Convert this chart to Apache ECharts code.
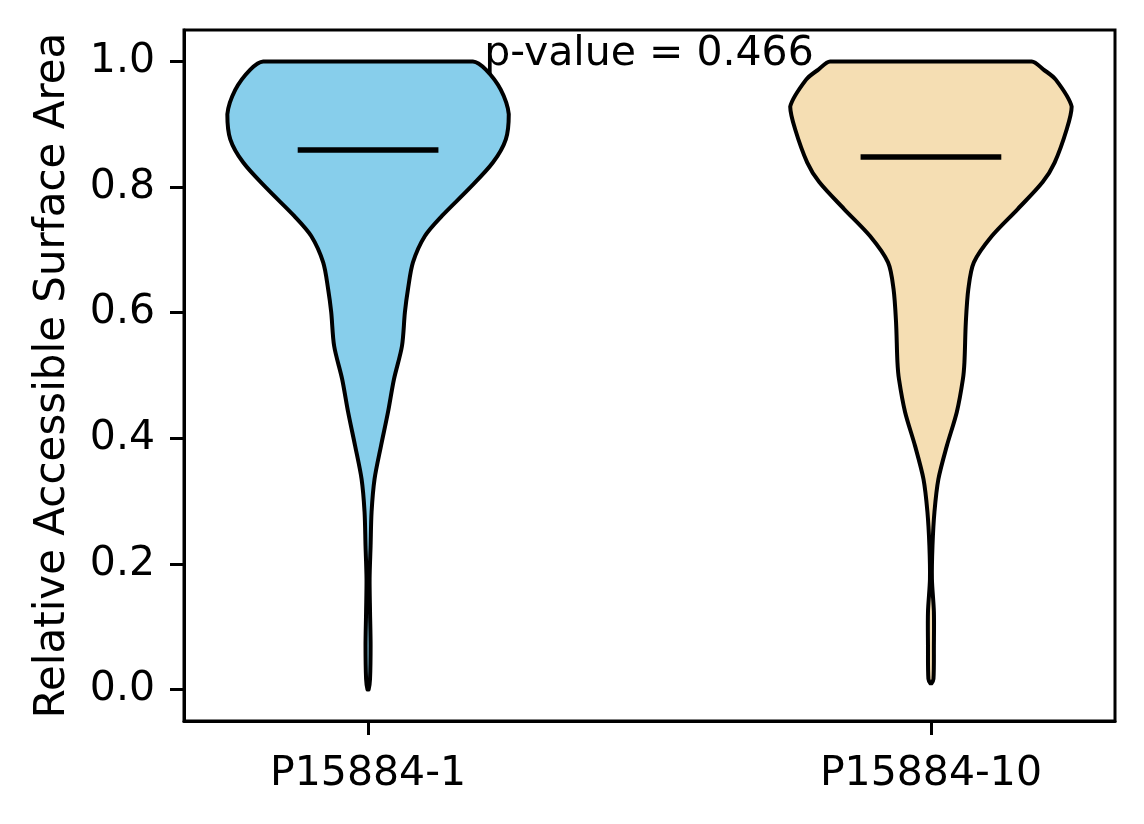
<!DOCTYPE html>
<html>
<head>
<meta charset="utf-8">
<script src="https://cdn.jsdelivr.net/npm/echarts@6/dist/echarts.min.js"></script>
<style>
  html, body { margin: 0; padding: 0; background: #fff; }
  #chart { width: 1144px; height: 824px; }
</style>
</head>
<body>
<div id="chart"></div>
<script>
var categories = ["P15884-1", "P15884-10"];
var positions = [1, 2];
var medians = [0.859, 0.848];
var pValue = 0.466;
var yTicks = [0, 0.2, 0.4, 0.6, 0.8, 1.0];

// violin outlines: level on y, relative width (1 = widest)
var levels1 = [1.0, 0.987, 0.955, 0.916, 0.876, 0.839, 0.797, 0.754, 0.722, 0.68, 0.638, 0.601, 0.547, 0.494, 0.442, 0.388, 0.335, 0.283, 0.229, 0.176, 0.124, 0.07, 0.017, 0.0];
var density1 = [0.745, 0.837, 0.943, 1.0, 0.979, 0.887, 0.716, 0.525, 0.404, 0.319, 0.284, 0.262, 0.241, 0.184, 0.142, 0.092, 0.046, 0.025, 0.018, 0.011, 0.014, 0.018, 0.014, 0.004];

var levels2 = [1.0, 0.987, 0.971, 0.928, 0.892, 0.839, 0.808, 0.765, 0.722, 0.68, 0.638, 0.585, 0.521, 0.494, 0.442, 0.388, 0.335, 0.283, 0.229, 0.176, 0.124, 0.07, 0.017, 0.01];
var density2 = [0.716, 0.80, 0.887, 1.0, 0.965, 0.879, 0.794, 0.617, 0.433, 0.305, 0.266, 0.248, 0.238, 0.227, 0.184, 0.113, 0.053, 0.025, 0.011, 0.007, 0.021, 0.021, 0.018, 0.004];

var levels = [levels1, levels2];
var densities = [density1, density2];
var colors = ["#87CEEB", "#F5DEB3"];

var font = "DejaVu Sans";
var chart = echarts.init(document.getElementById("chart"));

var option = {
  animation: false,
  backgroundColor: "#fff",
  title: {
    text: "p-value = " + pValue.toFixed(3),
    left: 649,
    top: 34,
    padding: 0,
    textAlign: "center",
    textStyle: { fontFamily: font, fontSize: 41, fontWeight: "normal", color: "#000" }
  },
  grid: {
    left: 184, right: 29, top: 30, bottom: 103,
    show: true, borderColor: "#000", borderWidth: 3, backgroundColor: "#fff"
  },
  xAxis: {
    type: "value",
    min: 0.673,
    max: 2.327,
    splitLine: { show: false },
    axisLine: { onZero: false, lineStyle: { color: "#000", width: 3 } },
    axisTick: { customValues: positions, length: 14, lineStyle: { color: "#000", width: 3 } },
    axisLabel: {
      customValues: positions,
      margin: 33,
      fontFamily: font, fontSize: 41, color: "#000",
      formatter: function (v) { return categories[positions.indexOf(v)]; }
    }
  },
  yAxis: {
    type: "value",
    min: -0.05,
    max: 1.05,
    name: "Relative Accessible Surface Area",
    nameLocation: "middle",
    nameGap: 110,
    nameTextStyle: { fontFamily: font, fontSize: 42, color: "#000" },
    splitLine: { show: false },
    axisLine: { show: true, onZero: false, lineStyle: { color: "#000", width: 3 } },
    axisTick: { customValues: yTicks, length: 14, lineStyle: { color: "#000", width: 3 } },
    axisLabel: {
      customValues: yTicks,
      margin: 29,
      fontFamily: font, fontSize: 41, color: "#000",
      formatter: function (v) { return v.toFixed(1); }
    }
  },
  series: [{
    type: "custom",
    data: positions.map(function (p, i) { return [p, medians[i]]; }),
    renderItem: function (params, api) {
      var i = params.dataIndex;
      var pos = positions[i];
      var lv = levels[i], dn = densities[i];
      var pts = [], back = [];
      for (var k = 0; k < lv.length; k++) {
        pts.push(api.coord([pos + dn[k] * 0.25, lv[k]]));
        back.unshift(api.coord([pos - dn[k] * 0.25, lv[k]]));
      }
      pts = pts.concat(back);
      // keep the smoothed outline inside the box of its points (flat top)
      var minX = Infinity, minY = Infinity, maxX = -Infinity, maxY = -Infinity;
      pts.forEach(function (p) {
        minX = Math.min(minX, p[0]); maxX = Math.max(maxX, p[0]);
        minY = Math.min(minY, p[1]); maxY = Math.max(maxY, p[1]);
      });
      var a = api.coord([pos - 0.125, medians[i]]);
      var b = api.coord([pos + 0.125, medians[i]]);
      return {
        type: "group",
        children: [{
          type: "polygon",
          shape: { points: pts, smooth: 0.3, smoothConstraint: [[minX, minY], [maxX, maxY]] },
          style: { fill: colors[i], stroke: "#000", lineWidth: 4, lineJoin: "round" }
        }, {
          type: "line",
          shape: { x1: a[0], y1: a[1], x2: b[0], y2: b[1] },
          style: { stroke: "#000", lineWidth: 5.5 }
        }]
      };
    }
  }]
};
chart.setOption(option);
</script>
</body>
</html>
